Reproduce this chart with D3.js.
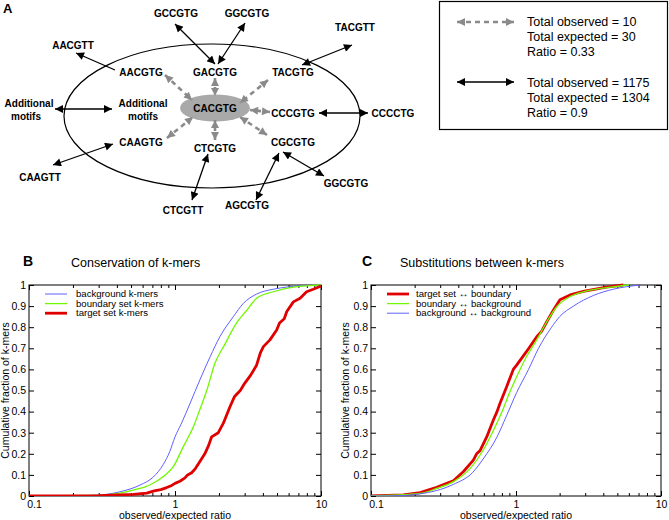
<!DOCTYPE html>
<html><head><meta charset="utf-8">
<script src="https://cdn.jsdelivr.net/npm/d3@7/dist/d3.min.js"></script>
<style>body{margin:0;background:#fff}svg{display:block;font-family:"Liberation Sans",Arial,Helvetica,sans-serif}</style>
</head><body><svg id="c" width="669" height="520"></svg>
<script>
// ---------------- DATA ----------------
const xTickValues = [0.1, 1, 10];
const xTickLabels = ["0.1", "1", "10"];
const xMinorTicks = [0.2,0.3,0.4,0.5,0.6,0.7,0.8,0.9,2,3,4,5,6,7,8,9];
const yTickValues = [0,0.1,0.2,0.3,0.4,0.5,0.6,0.7,0.8,0.9,1];
const yTickLabels = ["0","0.1","0.2","0.3","0.4","0.5","0.6","0.7","0.8","0.9","1"];
const xAxisTitle = "observed/expected ratio";
const yAxisTitle = "Cumulative fraction of k-mers";

// Panel B: conservation of k-mers  [ratio, cumulative fraction]
const panelBTitle = "Conservation of k-mers";
const panelBNames = ["background k-mers", "boundary set k-mers", "target set k-mers"];
const bBackground = [[0.1,0],[0.2,0.001],[0.307,0.005],[0.42,0.02],[0.576,0.052],[0.71,0.09],[0.832,0.15],[0.92,0.21],[1.0,0.28],[1.1,0.34],[1.27,0.44],[1.48,0.55],[1.74,0.66],[2.03,0.755],[2.51,0.85],[2.94,0.913],[3.62,0.957],[4.71,0.98],[6.13,0.992],[7.96,0.998],[10,1]];
const bBoundary = [[0.1,0],[0.307,0.003],[0.518,0.028],[0.674,0.052],[0.832,0.092],[0.974,0.139],[1.14,0.234],[1.34,0.33],[1.48,0.41],[1.65,0.5],[1.88,0.63],[2.2,0.72],[2.64,0.82],[3.1,0.88],[3.62,0.937],[4.71,0.968],[6.45,0.99],[8.4,0.997],[10,1]];
const bTarget = [[0.1,0],[0.3,0.002],[0.518,0.008],[0.64,0.014],[0.72,0.024],[0.8,0.03],[0.877,0.04],[0.95,0.05],[1.0,0.06],[1.08,0.07],[1.17,0.086],[1.22,0.1],[1.3,0.11],[1.38,0.13],[1.47,0.16],[1.6,0.2],[1.7,0.24],[1.78,0.28],[1.98,0.3],[2.14,0.344],[2.38,0.423],[2.55,0.47],[2.8,0.5],[3.0,0.534],[3.3,0.573],[3.62,0.62],[3.85,0.68],[4.03,0.708],[4.47,0.74],[4.97,0.787],[5.2,0.82],[5.6,0.84],[5.83,0.874],[6.47,0.92],[7.19,0.937],[7.97,0.968],[8.85,0.98],[10,0.995]];

// Panel C: substitutions between k-mers
const panelCTitle = "Substitutions between k-mers";
const panelCNames = ["target set \u2194 boundary", "boundary \u2194 background", "background \u2194 background"];
const cTargetBoundary = [[0.1,0],[0.167,0.005],[0.218,0.016],[0.284,0.041],[0.34,0.062],[0.37,0.072],[0.433,0.115],[0.508,0.17],[0.535,0.2],[0.565,0.215],[0.628,0.28],[0.698,0.36],[0.74,0.4],[0.776,0.44],[0.862,0.518],[0.958,0.6],[1.01,0.62],[1.18,0.684],[1.39,0.755],[1.5,0.78],[1.63,0.826],[1.81,0.88],[2.01,0.93],[2.36,0.953],[2.91,0.97],[4.2,0.99],[5.5,1]];
const cBoundaryBackground = [[0.1,0],[0.218,0.012],[0.284,0.036],[0.37,0.068],[0.482,0.13],[0.595,0.218],[0.698,0.31],[0.818,0.415],[0.909,0.495],[1.01,0.565],[1.18,0.66],[1.39,0.74],[1.63,0.826],[1.91,0.897],[2.36,0.945],[3.0,0.97],[4.5,0.99],[6,1]];
const cBackgroundBackground = [[0.1,0],[0.167,0.002],[0.218,0.01],[0.284,0.026],[0.37,0.055],[0.5,0.11],[0.6,0.18],[0.74,0.28],[0.86,0.38],[1.01,0.49],[1.22,0.6],[1.43,0.7],[1.76,0.8],[2.0,0.85],[2.49,0.9],[3.41,0.95],[4.69,0.98],[7.2,1]];

// Panel A: motif network
const centerMotif = "CACGTG";
const innerMotifs = ["GACGTG","AACGTG","TACGTG","CCCGTG","CGCGTG","CTCGTG","CAAGTG"];
const outerMotifs = ["GCCGTG","GGCGTG","TACGTT","AACGTT","CCCCTG","CAAGTT","CTCGTT","AGCGTG","GGCGTG"];
const additionalLabel = ["Additional","motifs"];
const legendDashed = ["Total observed = 10","Total expected = 30","Ratio = 0.33"];
const legendSolid = ["Total observed = 1175","Total expected = 1304","Ratio = 0.9"];

// ---------------- LAYOUT (positions, not data) ----------------
const posCenter = [215,108];
const posInner = [[215,72],[141,72],[293,72],[293,113],[293,142],[215,148],[141,142]];
const posOuter = [[176,13],[247,13],[355,27],[73,45],[393,113],[40,177],[183,210],[247,205],[346,183]];
const grayArrows = [[165,75,192,100],[215,78,215,96],[268,80,240,103],[270,112,250,110],[267,135,240,117],[215,140,215,120],[167,138,193,117]];
const blackArrows = [[175,24,215,64,2],[245,23,218,64,2],[352,45,302,65,2],[76,53,115,70,1],[55,109,112,109,2],[319,113,368,113,2],[113,144,53,165,2],[208,154,192,200,2],[279,153,256,200,2],[283,152,324,176,2]];

const svg = d3.select("#c");
const defs = svg.append("defs");
function marker(id, color) {
  defs.append("marker").attr("id", id).attr("viewBox","0 0 10 10")
    .attr("refX",10).attr("refY",5).attr("markerWidth",9).attr("markerHeight",8)
    .attr("markerUnits","userSpaceOnUse").attr("orient","auto-start-reverse")
    .append("path").attr("d","M0,0L10,5L0,10z").attr("fill",color);
}
marker("hb","#000"); marker("hg","#8a8a8a");

// ---------------- PANEL A ----------------
const A = svg.append("g");
A.append("text").attr("x",3).attr("y",13).attr("font-weight","bold").attr("font-size",13).text("A");
A.append("ellipse").attr("cx",212).attr("cy",116).attr("rx",148).attr("ry",72)
  .attr("fill","none").attr("stroke","#000").attr("stroke-width",1.2);
A.append("ellipse").attr("cx",215).attr("cy",108).attr("rx",35).attr("ry",13.5).attr("fill","#a9a9a9");

A.selectAll("line.g").data(grayArrows).join("line").attr("class","g")
  .attr("x1",d=>d[0]).attr("y1",d=>d[1]).attr("x2",d=>d[2]).attr("y2",d=>d[3])
  .attr("stroke","#8a8a8a").attr("stroke-width",2.6).attr("stroke-dasharray","5,4")
  .attr("marker-start","url(#hg)").attr("marker-end","url(#hg)");
A.selectAll("line.b").data(blackArrows).join("line").attr("class","b")
  .attr("x1",d=>d[0]).attr("y1",d=>d[1]).attr("x2",d=>d[2]).attr("y2",d=>d[3])
  .attr("stroke","#000").attr("stroke-width",1.3)
  .attr("marker-start","url(#hb)").attr("marker-end",d=>d[4]===2?"url(#hb)":null);

const lab = (x,y,t)=>A.append("text").attr("x",x).attr("y",y).attr("dy","0.35em")
  .attr("text-anchor","middle").attr("font-weight","bold").attr("font-size",10).text(t);
lab(posCenter[0],posCenter[1],centerMotif);
innerMotifs.forEach((m,i)=>lab(posInner[i][0],posInner[i][1],m));
outerMotifs.forEach((m,i)=>lab(posOuter[i][0],posOuter[i][1],m));
lab(143,103,additionalLabel[0]); lab(143,116,additionalLabel[1]);
lab(29,103,additionalLabel[0]); lab(26,116,additionalLabel[1]);

// legend box
A.append("rect").attr("x",439.5).attr("y",1.5).attr("width",228).attr("height",128)
  .attr("fill","none").attr("stroke","#000").attr("stroke-width",1.2);
A.append("line").attr("x1",457).attr("y1",22).attr("x2",514).attr("y2",22)
  .attr("stroke","#8a8a8a").attr("stroke-width",2.6).attr("stroke-dasharray","5,4")
  .attr("marker-start","url(#hg)").attr("marker-end","url(#hg)");
A.append("line").attr("x1",457).attr("y1",82).attr("x2",514).attr("y2",82)
  .attr("stroke","#000").attr("stroke-width",1.3)
  .attr("marker-start","url(#hb)").attr("marker-end","url(#hb)");
legendDashed.forEach((t,i)=>A.append("text").attr("x",527).attr("y",25.5+i*15).attr("font-size",12.5).text(t));
legendSolid.forEach((t,i)=>A.append("text").attr("x",527).attr("y",87+i*15).attr("font-size",12.5).text(t));

// ---------------- PANELS B & C ----------------
function drawPanel(o) {
  const g = svg.append("g");
  const x = d3.scaleLog().domain([0.1,10]).range([o.left,o.right]);
  const y = d3.scaleLinear().domain([0,1]).range([496,285]);
  const top = 285, bot = 496;
  g.append("text").attr("x",o.letterX).attr("y",266).attr("font-weight","bold").attr("font-size",14).text(o.letter);
  g.append("text").attr("x",o.titleX).attr("y",267).attr("font-size",12.5).text(o.title);

  const fmtX = d=>xTickLabels[xTickValues.indexOf(d)];
  const fmtY = d=>yTickLabels[yTickValues.indexOf(d)];
  const style = sel=>{ sel.select(".domain").remove(); sel.selectAll("line").attr("stroke","#000");
    sel.selectAll("text").attr("font-family","Liberation Sans, Arial, sans-serif").attr("font-size",10.5).attr("fill","#000"); };

  const xb = g.append("g").attr("transform",`translate(0,${bot})`)
    .call(d3.axisBottom(x).tickValues(xTickValues).tickFormat(fmtX).tickSize(-5).tickPadding(5)).call(style);
  xb.selectAll("text").filter(d=>d===0.1).attr("dx",5);
  g.append("g").attr("transform",`translate(0,${bot})`)
    .call(d3.axisBottom(x).tickValues(xMinorTicks).tickFormat("").tickSize(-3)).call(style);
  g.append("g").attr("transform",`translate(0,${top})`)
    .call(d3.axisTop(x).tickValues(xTickValues).tickFormat("").tickSize(-5)).call(style);
  g.append("g").attr("transform",`translate(0,${top})`)
    .call(d3.axisTop(x).tickValues(xMinorTicks).tickFormat("").tickSize(-3)).call(style);
  g.append("g").attr("transform",`translate(${o.left},0)`)
    .call(d3.axisLeft(y).tickValues(yTickValues).tickFormat(fmtY).tickSize(-5).tickPadding(3)).call(style);
  g.append("g").attr("transform",`translate(${o.right},0)`)
    .call(d3.axisRight(y).tickValues(yTickValues).tickFormat("").tickSize(-5)).call(style);

  g.append("rect").attr("x",o.left).attr("y",top).attr("width",o.right-o.left).attr("height",bot-top)
    .attr("fill","none").attr("stroke","#000").attr("stroke-width",1);

  g.append("text").attr("x",(o.left+o.right)/2).attr("y",519).attr("text-anchor","middle").attr("font-size",10.5).text(xAxisTitle);
  g.append("text").attr("transform",`translate(${o.yTitleX},${(top+bot)/2}) rotate(-90)`)
    .attr("text-anchor","middle").attr("font-size",10.5).text(yAxisTitle);

  const line = d3.line().x(d=>x(d[0])).y(d=>y(d[1]));
  const clip = "clip"+o.letter;
  defs.append("clipPath").attr("id",clip).append("rect").attr("x",o.left).attr("y",top-2).attr("width",o.right-o.left).attr("height",bot-top+2);
  o.order.forEach(i=>{
    const s = o.series[i];
    g.append("path").datum(s.data).attr("d",line.curve(s.smooth?d3.curveMonotoneX:d3.curveLinear))
      .attr("fill","none").attr("stroke",s.color).attr("stroke-width",s.width)
      .attr("stroke-linejoin","round").attr("clip-path",`url(#${clip})`);
  });
  o.series.forEach((s,i)=>{
    const ly = 294 + i*9.6;
    g.append("line").attr("x1",o.legX1).attr("x2",o.legX2).attr("y1",ly).attr("y2",ly)
      .attr("stroke",s.color).attr("stroke-width",s.width);
    g.append("text").attr("x",o.legTextX).attr("y",ly).attr("dy","0.33em").attr("font-size",9.6).text(s.name);
  });
}

const BLUE = "#6060ff", GREEN = "#70f800", RED = "#e00000";
drawPanel({letter:"B", letterX:23, titleX:71, title:panelBTitle, left:29, right:321, yTitleX:9,
  legX1:45, legX2:67, legTextX:76, order:[0,1,2],
  series:[
    {name:panelBNames[0], data:bBackground, color:BLUE, width:1, smooth:true},
    {name:panelBNames[1], data:bBoundary, color:GREEN, width:1.3, smooth:true},
    {name:panelBNames[2], data:bTarget, color:RED, width:2.8, smooth:false}
  ]});
drawPanel({letter:"C", letterX:362, titleX:400, title:panelCTitle, left:371, right:661, yTitleX:349,
  legX1:387, legX2:409, legTextX:416, order:[0,1,2],
  series:[
    {name:panelCNames[0], data:cTargetBoundary, color:RED, width:2.8, smooth:false},
    {name:panelCNames[1], data:cBoundaryBackground, color:GREEN, width:1.3, smooth:true},
    {name:panelCNames[2], data:cBackgroundBackground, color:BLUE, width:1, smooth:true}
  ]});
</script></body></html>
